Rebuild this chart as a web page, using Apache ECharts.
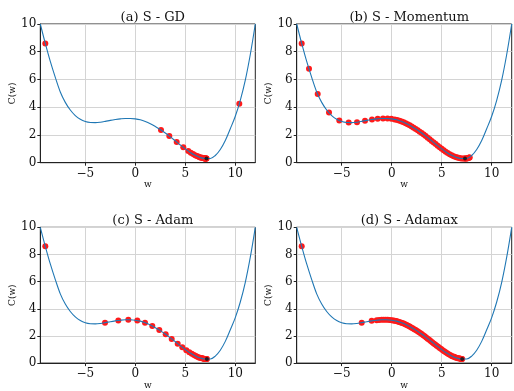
<!DOCTYPE html>
<html>
<head>
<meta charset="utf-8">
<script src="https://cdn.jsdelivr.net/npm/echarts@6/dist/echarts.min.js"></script>
<style>
html,body{margin:0;padding:0;background:#fff;}
#chart{width:514px;height:391px;}
</style>
</head>
<body>
<div id="chart"></div>
<script>
// ---- data ----
const curveW = [-9.5,-9.0,-8.5,-8.0,-7.5,-7.0,-6.5,-6.0,-5.5,-5.0,-4.5,-4.0,-3.5,-3.0,-2.5,-2.0,-1.5,-1.0,-0.5,0.0,0.5,1.0,1.5,2.0,2.5,3.0,3.5,4.0,4.5,5.0,5.5,6.0,6.5,7.0,7.5,8.0,8.5,9.0,9.5,10.0,10.5,11.0,11.5,12.0];
const curveC = [10.0,8.6,7.3,6.15,5.1,4.35,3.8,3.4,3.13,2.97,2.9,2.89,2.92,2.98,3.05,3.11,3.16,3.19,3.19,3.16,3.09,2.97,2.81,2.61,2.39,2.14,1.86,1.57,1.28,1.0,0.74,0.53,0.38,0.3,0.3,0.52,0.95,1.6,2.45,3.35,4.5,5.95,7.8,10.0];

const gdW = [-9.0,10.4,2.57,3.4,4.14,4.8,5.3,5.55,5.78,5.98,6.15,6.3,6.42,6.53,6.62,6.7,6.77,6.83,6.88,6.93,6.97,7.0,7.03,7.06,7.08,7.1,7.12];
const gdC = [8.6,4.25,2.36,1.92,1.49,1.11,0.84,0.72,0.62,0.54,0.48,0.44,0.4,0.38,0.36,0.35,0.335,0.32,0.315,0.31,0.305,0.3,0.3,0.3,0.3,0.3,0.3];

const momW = [-9.0,-8.27,-7.4,-6.27,-5.24,-4.3,-3.47,-2.67,-1.97,-1.4,-0.87,-0.42,-0.04,0.3,0.55,0.78,1.0,1.2,1.4,1.6,1.8,2.0,2.2,2.4,2.6,2.8,3.0,3.2,3.4,3.6,3.8,4.0,4.2,4.4,4.6,4.8,5.0,5.2,5.4,5.6,5.8,6.0,6.2,6.4,6.55,6.7,6.85,7.0,7.15,7.3,7.45,7.6,7.72,7.8,7.75,7.6,7.45,7.33];
const momC = [8.6,6.77,4.95,3.62,3.05,2.89,2.92,3.03,3.11,3.17,3.19,3.185,3.16,3.12,3.08,3.02,2.97,2.91,2.84,2.77,2.7,2.61,2.52,2.43,2.34,2.24,2.14,2.03,1.92,1.8,1.69,1.57,1.45,1.34,1.22,1.11,1.0,0.9,0.79,0.7,0.61,0.53,0.47,0.41,0.37,0.35,0.32,0.3,0.295,0.295,0.3,0.32,0.36,0.38,0.37,0.32,0.3,0.295];

const adamW = [-9.0,-3.03,-1.7,-0.7,0.2,0.97,1.7,2.4,3.04,3.64,4.24,4.7,5.1,5.4,5.65,5.87,6.05,6.2,6.35,6.47,6.58,6.68,6.77,6.85,6.92,6.98,7.03,7.08,7.12,7.16];
const adamC = [8.6,2.98,3.14,3.19,3.14,2.98,2.73,2.43,2.12,1.78,1.43,1.17,0.95,0.79,0.68,0.59,0.52,0.47,0.42,0.39,0.37,0.35,0.335,0.32,0.31,0.3,0.3,0.3,0.3,0.3];

const adamaxW = [-9.0,-3.0,-2.0,-1.5,-1.25,-1.0,-0.8,-0.6,-0.4,-0.2,0.0,0.15,0.3,0.45,0.6,0.75,0.9,1.05,1.2,1.35,1.5,1.65,1.8,1.95,2.1,2.25,2.4,2.55,2.7,2.85,3.0,3.15,3.3,3.45,3.6,3.75,3.9,4.05,4.2,4.35,4.5,4.65,4.8,4.95,5.1,5.25,5.4,5.55,5.7,5.85,6.0,6.12,6.24,6.36,6.48,6.6,6.7,6.8,6.88,6.95,7.0,7.05];
const adamaxC = [8.6,2.98,3.11,3.16,3.18,3.19,3.19,3.19,3.185,3.175,3.16,3.14,3.12,3.1,3.07,3.03,2.99,2.95,2.91,2.86,2.81,2.75,2.69,2.63,2.57,2.5,2.43,2.37,2.29,2.22,2.14,2.06,1.97,1.89,1.8,1.72,1.63,1.54,1.45,1.37,1.28,1.2,1.11,1.03,0.95,0.87,0.79,0.72,0.66,0.59,0.53,0.49,0.46,0.42,0.39,0.36,0.35,0.33,0.32,0.31,0.3,0.3];

const titles = ['(a) S - GD','(b) S - Momentum','(c) S - Adam','(d) S - Adamax'];
const xTicks = [-5,0,5,10];
const yTicks = [0,2,4,6,8,10];
// ---------------------------------------

const zip = (a,b) => a.map((v,i)=>[v,b[i]]);
const paths = [[gdW,gdC],[momW,momC],[adamW,adamC],[adamaxW,adamaxC]];
const serif = 'DejaVu Serif';

const grids = [
  {left:40.3, top:24, width:215, height:138.7},
  {left:296.7, top:24, width:215, height:138.7},
  {left:40.3, top:227.3, width:215, height:138.7},
  {left:296.7, top:227.3, width:215, height:138.7}
].map(g => Object.assign(g, {show:true, borderColor:'#222', borderWidth:1, containLabel:false}));

const titleOpts = grids.map((g,i)=>({
  text: titles[i], left: g.left + g.width/2, top: g.top - 18, textAlign:'center',
  textStyle:{fontFamily:serif, fontSize:13, fontWeight:'normal', color:'#111'}
}));

const xAxes = grids.map((g,i)=>({
  type:'value', gridIndex:i, min:-9.5, max:12,
  name:'w', nameLocation:'middle', nameGap:17,
  nameTextStyle:{fontFamily:serif, fontSize:9, color:'#111'},
  axisLine:{show:true, onZero:false, lineStyle:{color:'#222', width:1}},
  axisTick:{show:true, inside:false, length:3, customValues:xTicks, lineStyle:{color:'#222'}},
  axisLabel:{customValues:xTicks, margin:5, fontFamily:serif, fontSize:12, color:'#111',
    formatter: v => String(v).replace('-', '\u2212')},
  splitLine:{show:true, lineStyle:{color:'#d4d4d4', width:1}}
}));

const yAxes = grids.map((g,i)=>({
  type:'value', gridIndex:i, min:0, max:10, interval:2,
  name:'C(w)', nameLocation:'middle', nameGap:22,
  nameTextStyle:{fontFamily:serif, fontSize:9, color:'#111'},
  axisLine:{show:true, onZero:false, lineStyle:{color:'#222', width:1}},
  axisTick:{show:true, inside:false, length:3, lineStyle:{color:'#222'}},
  axisLabel:{margin:4, fontFamily:serif, fontSize:12, color:'#111'},
  splitLine:{show:true, lineStyle:{color:'#d4d4d4', width:1}}
}));

const series = [];
paths.forEach((p,i)=>{
  series.push({
    type:'scatter', xAxisIndex:i, yAxisIndex:i, z:2,
    data: zip(p[0], p[1]), symbolSize:6,
    itemStyle:{color:'#ff1a1a', opacity:1}, silent:true
  });
  series.push({
    type:'line', xAxisIndex:i, yAxisIndex:i, z:3,
    data: zip(curveW, curveC), smooth:0.35, showSymbol:false,
    lineStyle:{color:'#1f77b4', width:1.1}, silent:true
  });
  const n = p[0].length - 1;
  series.push({
    type:'scatter', xAxisIndex:i, yAxisIndex:i, z:4,
    data: [[p[0][n], p[1][n]]], symbolSize:4,
    itemStyle:{color:'#111'}, silent:true
  });
});

const chart = echarts.init(document.getElementById('chart'), null, {renderer:'canvas'});
chart.setOption({
  animation:false,
  backgroundColor:'#fff',
  title: titleOpts,
  grid: grids,
  xAxis: xAxes,
  yAxis: yAxes,
  series: series
});
</script>
</body>
</html>
